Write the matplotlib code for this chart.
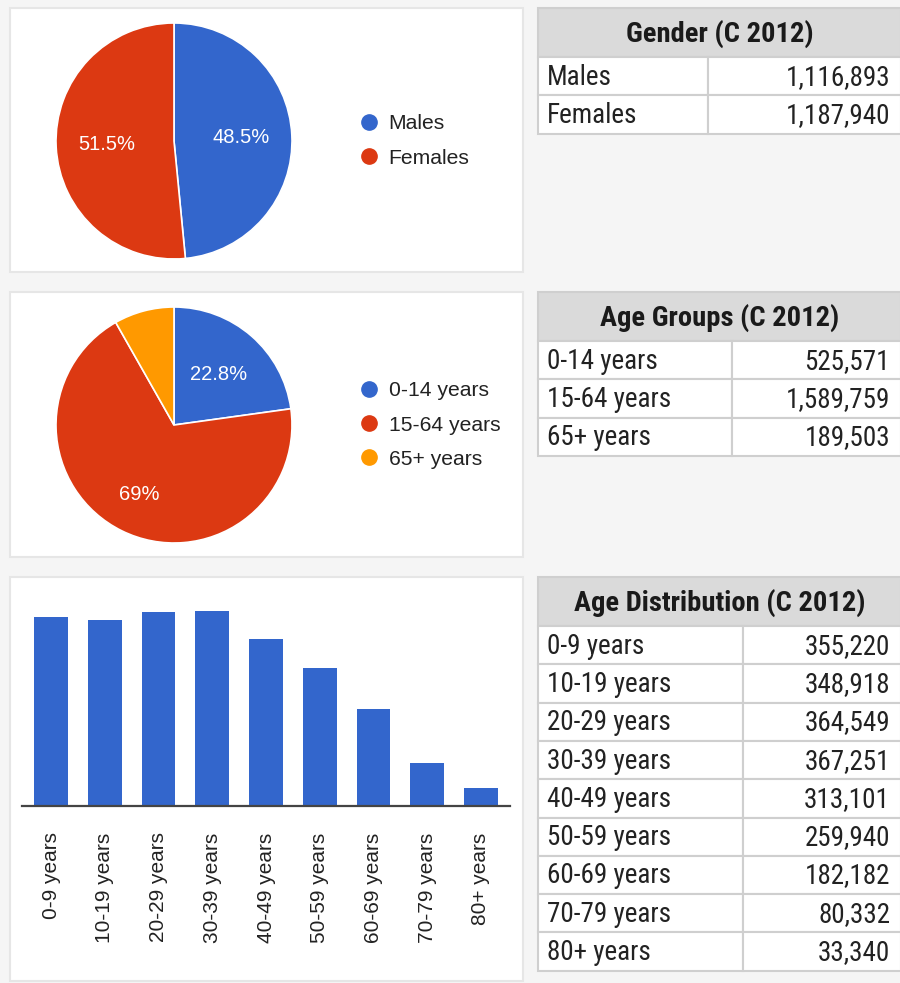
import numpy as np
import matplotlib.pyplot as plt
from matplotlib.patches import Rectangle
from matplotlib.lines import Line2D

W, H = 900, 983

# data (C 2012 census)
gender_labels = ["Males", "Females"]
gender_values = [1116893, 1187940]

group_labels = ["0-14 years", "15-64 years", "65+ years"]
group_values = [525571, 1589759, 189503]

dist_labels = ["0-9 years", "10-19 years", "20-29 years", "30-39 years", "40-49 years",
               "50-59 years", "60-69 years", "70-79 years", "80+ years"]
dist_values = [355220, 348918, 364549, 367251, 313101, 259940, 182182, 80332, 33340]

BLUE, RED, ORANGE = "#3366cc", "#dc3912", "#ff9900"
CHART_FONT = ["Liberation Sans", "DejaVu Sans"]
TABLE_FONT = ["Roboto Condensed", "Liberation Sans Narrow", "Roboto", "DejaVu Sans"]


def px_axes(fig, x0, y0, x1, y1, **kw):
  # axes given in pixel coords, y measured from the top
  return fig.add_axes([x0 / W, 1 - y1 / H, (x1 - x0) / W, (y1 - y0) / H], **kw)


def pct_fmt(p):
  if p < 10:
    return ""
  s = "%.1f" % p
  if s.endswith(".0"):
    s = s[:-2]
  return s + "%"


def draw_pie(fig, cx, cy, r, values, labels, colors, legend_y):
  ax = px_axes(fig, cx - r, cy - r, cx + r, cy + r)
  ax.set_facecolor("none")
  wedges, _, autotexts = ax.pie(values, colors=colors, startangle=90, counterclock=False,
                                autopct=pct_fmt, pctdistance=0.57,
                                wedgeprops=dict(edgecolor="white", linewidth=1.2),
                                textprops=dict(color="white", fontsize=14.5, family=CHART_FONT))
  ax.set_xlim(-1, 1)
  ax.set_ylim(-1, 1)
  ax.set_aspect("equal")
  # google puts the big slice label a bit further out
  for w, t in zip(wedges, autotexts):
    if w.theta2 - w.theta1 > 200:
      mid = np.deg2rad((w.theta1 + w.theta2) / 2)
      t.set_position((0.66 * np.cos(mid), 0.66 * np.sin(mid)))
  handles = [Line2D([], [], ls="", marker="o", ms=11, color=c) for c in colors]
  fig.legend(handles, labels, loc="center left", frameon=False,
             bbox_to_anchor=(348 / W, 1 - legend_y / H), borderpad=0,
             handlelength=1.0, handletextpad=0.42, labelspacing=0.72,
             prop=dict(family=CHART_FONT, size=15.2), labelcolor="#222222")


def draw_table(ax, x0, x1, split, top, title, labels, values):
  head_h, row_h = 49, 38.3
  border = "#cfcfcf"
  ax.add_patch(Rectangle((x0, top), x1 - x0, head_h, facecolor="#dadada",
                         edgecolor=border, lw=1.5))
  ax.text((x0 + x1) / 2, top + head_h / 2 + 1, title, ha="center", va="center",
          fontsize=20.5, fontweight="bold", color="#1a1a1a", family=TABLE_FONT)
  for i, (lab, val) in enumerate(zip(labels, values)):
    y = top + head_h + i * row_h
    ax.add_patch(Rectangle((x0, y), split - x0, row_h, facecolor="white",
                           edgecolor=border, lw=1.5))
    ax.add_patch(Rectangle((split, y), x1 - split, row_h, facecolor="white",
                           edgecolor=border, lw=1.5))
    ax.text(x0 + 9, y + row_h / 2 + 1, lab, ha="left", va="center",
            fontsize=19.5, color="#222222", family=TABLE_FONT)
    ax.text(x1 - 11, y + row_h / 2 + 1, f"{val:,}", ha="right", va="center",
            fontsize=19.5, color="#222222", family=TABLE_FONT)


fig = plt.figure(figsize=(W / 100, H / 100), dpi=100)
fig.patch.set_facecolor("#f5f5f5")

bg = fig.add_axes([0, 0, 1, 1])
bg.set_xlim(0, W)
bg.set_ylim(H, 0)
bg.axis("off")

# white panels behind the charts
for y0, y1 in [(8, 272), (292, 557), (577, 981)]:
  bg.add_patch(Rectangle((10, y0), 513, y1 - y0, facecolor="white",
                         edgecolor="#e6e6e6", lw=1.5))

draw_pie(fig, 174, 141, 118, gender_values, gender_labels, [BLUE, RED], 141)
draw_pie(fig, 174, 425, 118, group_values, group_labels, [BLUE, RED, ORANGE], 425)

## Age distribution bars
ax = px_axes(fig, 22, 590, 510, 806)
ax.set_facecolor("none")
x = np.arange(len(dist_values))
ax.bar(x, dist_values, width=0.63, color=BLUE)
ax.set_xlim(-0.54, len(dist_values) - 0.46)
ax.set_ylim(0, 406000)
ax.set_xticks(x)
ax.set_xticklabels(dist_labels, rotation=90, fontsize=15, family=CHART_FONT,
                   color="#222222", va="top")
ax.tick_params(axis="x", length=0, pad=19)
ax.set_yticks([])
for side in ["left", "right", "top"]:
  ax.spines[side].set_visible(False)
ax.spines["bottom"].set_color("#444444")
ax.spines["bottom"].set_linewidth(1.6)

## tables on the right
draw_table(bg, 538, 901, 708, 8, "Gender (C 2012)", gender_labels, gender_values)
draw_table(bg, 538, 901, 732, 292, "Age Groups (C 2012)", group_labels, group_values)
draw_table(bg, 538, 901, 743, 577, "Age Distribution (C 2012)", dist_labels, dist_values)

fig.savefig("out.png", dpi=100, facecolor=fig.get_facecolor())
